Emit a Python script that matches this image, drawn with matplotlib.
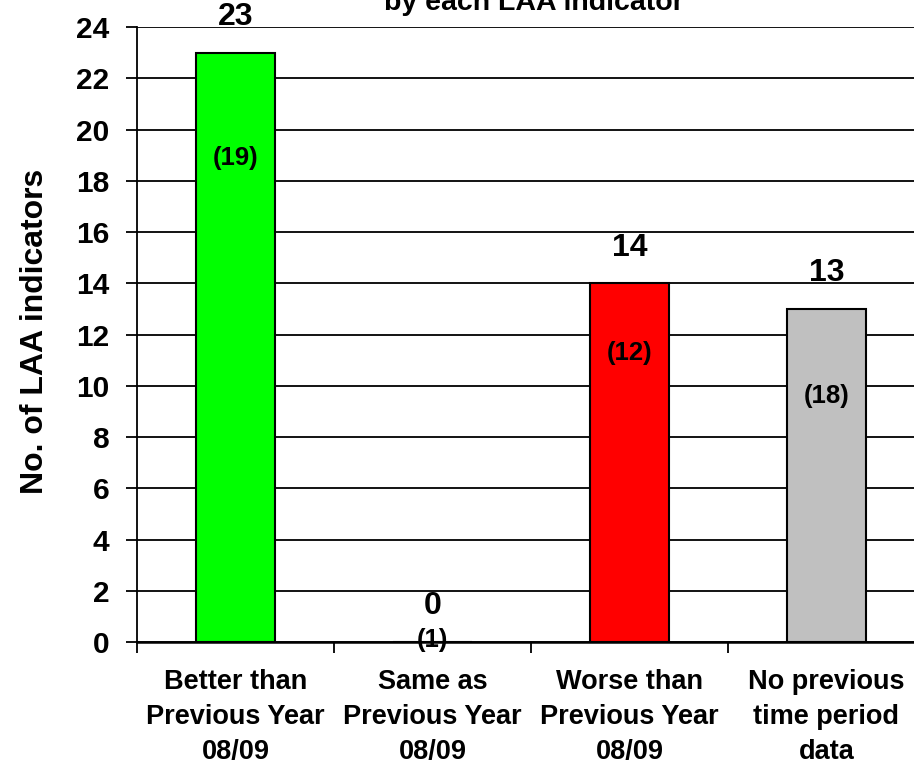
import matplotlib
matplotlib.use('Agg')
import matplotlib.pyplot as plt

plt.rcParams['font.family'] = ['Liberation Sans', 'DejaVu Sans']
plt.rcParams['font.weight'] = 'bold'

categories = ['Better than\nPrevious Year\n08/09',
              'Same as\nPrevious Year\n08/09',
              'Worse than\nPrevious Year\n08/09',
              'No previous\ntime period\ndata']
counts = [23, 0, 14, 13]
prev_counts = ['(19)', '(1)', '(12)', '(18)']
colors = ['#00ff00', '#ffffff', '#ff0000', '#c0c0c0']

# where the bracketed previous-year figures sit (data units)
prev_label_y = [18.9, 0.1, 11.3, 9.6]

fig = plt.figure(figsize=(9.14, 7.6), dpi=100)
ax = fig.add_axes([0.150, 0.155, 0.862, 0.8092])

x = list(range(len(categories)))
ax.bar(x, counts, width=0.4, color=colors, edgecolor='black', linewidth=1.5, zorder=3)

for i in x:
    ax.annotate(str(counts[i]), (i, counts[i]), xytext=(0, 15), textcoords='offset points',
                ha='center', va='bottom', fontsize=23, fontweight='bold', zorder=4)
    ax.text(i, prev_label_y[i], prev_counts[i], ha='center', va='center',
            fontsize=18.5, fontweight='bold', zorder=4)

ax.set_ylim(0, 24)
ax.set_xlim(-0.5, 3.5)
ax.set_yticks(range(0, 25, 2))
ax.yaxis.grid(True, color='black', linewidth=1.3)
ax.set_axisbelow(True)
ax.tick_params(axis='y', labelsize=21.5, width=1.3, length=8, pad=12)

ax.set_xticks(x)
ax.set_xticklabels(categories, fontsize=19.5, fontweight='bold', linespacing=1.45)
ax.tick_params(axis='x', length=0, pad=19)
ax.set_xticks([-0.5, 0.5, 1.5, 2.5], minor=True)
ax.tick_params(axis='x', which='minor', length=8, width=1.3)

for s in ['top', 'right']:
    ax.spines[s].set_visible(False)
ax.spines['left'].set_linewidth(1.3)
ax.spines['bottom'].set_linewidth(1.8)

ax.set_ylabel('No. of LAA indicators', fontsize=23, fontweight='bold', va='center')
ax.yaxis.set_label_coords(-0.129, 0.505)

fig.text(0.584, 0.987, 'by each LAA indicator', ha='center', va='baseline',
         fontsize=20.5, fontweight='bold')

fig.savefig('out.png', dpi=100)
